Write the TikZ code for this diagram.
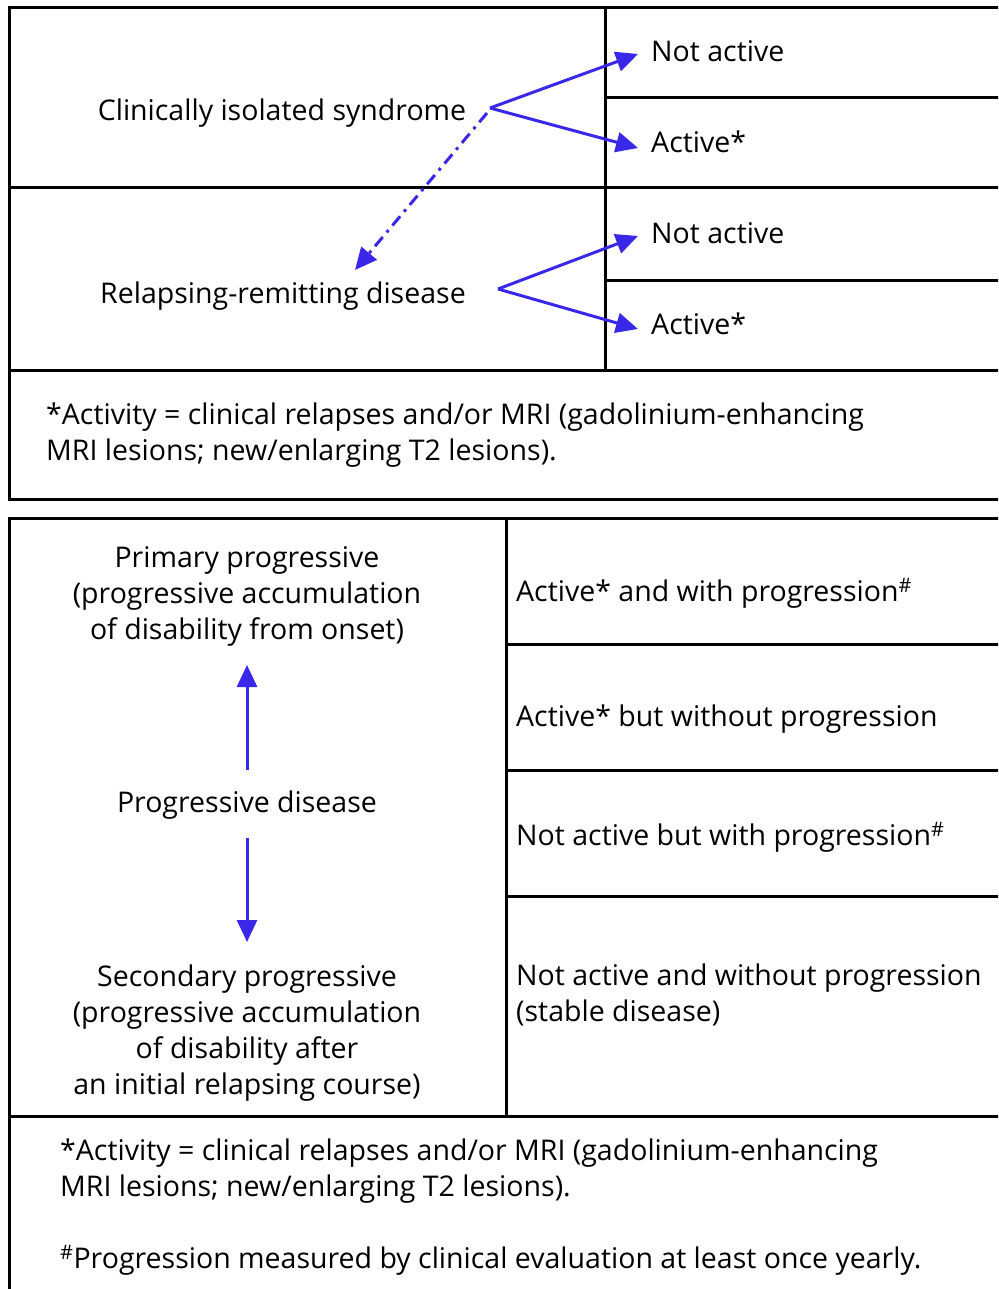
\documentclass[tikz,border=0pt]{standalone}
\usepackage{fontspec}
\setmainfont{Open Sans}
\usetikzlibrary{arrows.meta}
\definecolor{arrowblue}{RGB}{58,40,232}
\tikzset{
  frame/.style={line width=3pt, black},
  txt/.style={font=\fontsize{28.5}{36}\selectfont, inner sep=0pt, text=black},
  arr/.style={arrowblue, line width=3pt, -{Triangle[length=22pt,width=20pt]}},
  darr/.style={arr, dash pattern=on 12pt off 6pt on 3pt off 6pt},
}
\begin{document}
\begin{tikzpicture}[x=1pt,y=-1pt]
\useasboundingbox (0,0) rectangle (998,1289);
\begin{scope}
\clip (0,0) rectangle (998,1289);
% top panel
\draw[frame] (1010,8) -- (9,8) -- (9,499) -- (1010,499);
\draw[frame] (9,188) -- (1010,188);
\draw[frame] (9,370) -- (1010,370);
\draw[frame] (605,8) -- (605,370);
\draw[frame] (605,98) -- (1010,98);
\draw[frame] (605,280) -- (1010,280);
% bottom panel
\draw[frame] (1010,518) -- (9,518) -- (9,1300);
\draw[frame] (9,1116) -- (1010,1116);
\draw[frame] (506,518) -- (506,1116);
\draw[frame] (506,644) -- (1010,644);
\draw[frame] (506,770) -- (1010,770);
\draw[frame] (506,896) -- (1010,896);
\end{scope}

% top texts
\node[txt] (cis) at (282,113) {Clinically isolated syndrome};
\node[txt, anchor=west] (na1) at (651,51) {Not active};
\node[txt, anchor=west] (ac1) at (651,142) {Active*};
\node[txt] (rrd) at (283,296) {Relapsing-remitting disease};
\node[txt, anchor=west] (na2) at (651,233) {Not active};
\node[txt, anchor=west] (ac2) at (651,324) {Active*};
\node[txt, anchor=north west, align=left] (fn1) at (46,403) {*Activity = clinical relapses and/or MRI (gadolinium-enhancing\\MRI lesions; new/enlarging T2 lesions).};

% top arrows
\coordinate (f1) at (490,108);
\coordinate (t1) at (638,54);
\coordinate (t2) at (638,148);
\coordinate (d0) at (487,113);
\coordinate (d1) at (355,270);
\coordinate (f2) at (498,289);
\coordinate (t3) at (638,236);
\coordinate (t4) at (638,329);
\draw[arr] (f1) -- (t1);
\draw[arr] (f1) -- (t2);
\draw[darr] (d0) -- (d1);
\draw[arr] (f2) -- (t3);
\draw[arr] (f2) -- (t4);

% bottom left texts
\node[txt, align=center] (pp) at (247,596) {Primary progressive\\(progressive accumulation\\of disability from onset)};
\node[txt] (pd) at (247,805) {Progressive disease};
\node[txt, align=center] (sp) at (247,1033) {Secondary progressive\\(progressive accumulation\\of disability after\\an initial relapsing course)};
\coordinate (u0) at (247,770);
\coordinate (u1) at (247,665);
\coordinate (w0) at (247,838);
\coordinate (w1) at (247,942);
\draw[arr] (u0) -- (u1);
\draw[arr] (w0) -- (w1);

% bottom right texts
\node[txt, anchor=west] (r1) at (516,593) {Active* and with progression\textsuperscript{\#}};
\node[txt, anchor=west] (r2) at (516,719) {Active* but without progression};
\node[txt, anchor=west] (r3) at (516,837) {Not active but with progression\textsuperscript{\#}};
\node[txt, anchor=north west, align=left] (r4) at (516,964) {Not active and without progression\\(stable disease)};

% bottom footnote
\node[txt, anchor=north west, align=left] (fn2) at (60,1139) {*Activity = clinical relapses and/or MRI (gadolinium-enhancing\\MRI lesions; new/enlarging T2 lesions).};
\node[txt, anchor=west] (fn3) at (60,1260) {\textsuperscript{\#}Progression measured by clinical evaluation at least once yearly.};
\end{tikzpicture}
\end{document}
